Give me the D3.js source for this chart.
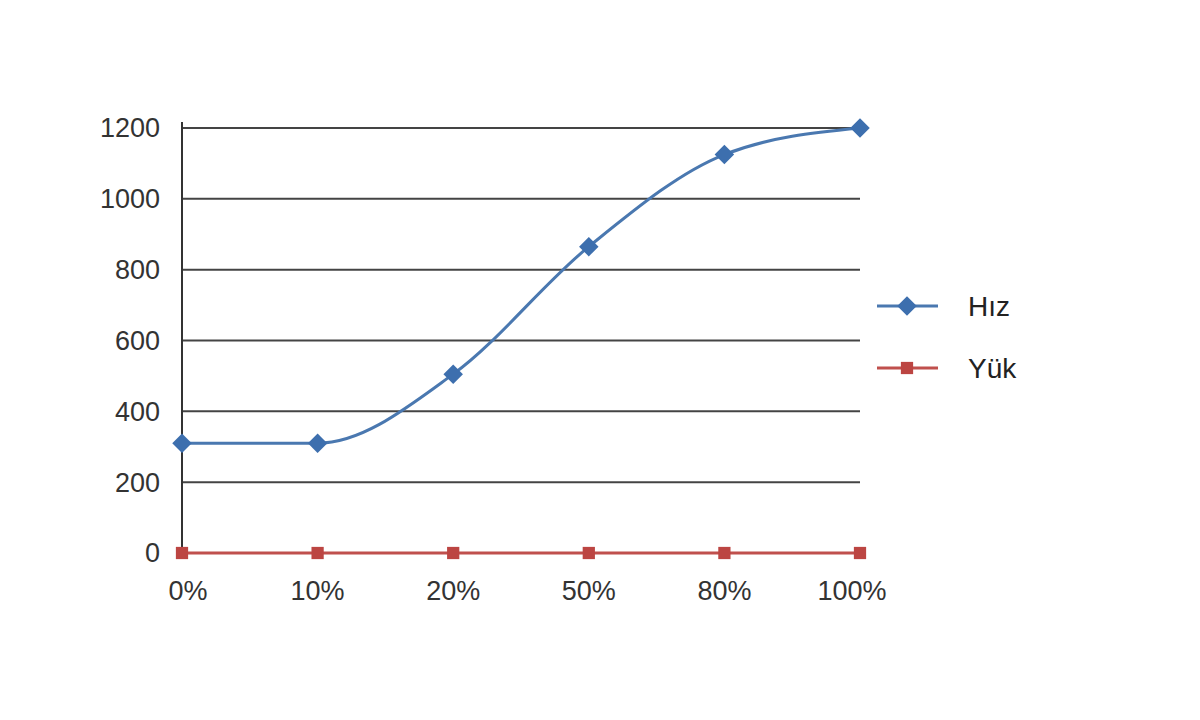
<!DOCTYPE html>
<html>
<head>
<meta charset="utf-8">
<script src="https://cdn.jsdelivr.net/npm/d3@7"></script>
<style>
  body { margin: 0; background: #fff; }
  text { font-family: "Liberation Sans", Arial, sans-serif; }
</style>
</head>
<body>
<svg id="chart" width="1200" height="720"></svg>
<script>
// Data
const categories = ["0%", "10%", "20%", "50%", "80%", "100%"];
const hizValues = [310, 310, 505, 865, 1125, 1200];
const yukValues = [0, 0, 0, 0, 0, 0];
const yTicks = [0, 200, 400, 600, 800, 1000, 1200];

const series = [
    { name: "Hız", values: hizValues, line: "#4a78b0", marker: "#3d6fae", rotate: 45, size: 190 },
    { name: "Yük", values: yukValues, line: "#c0504d", marker: "#bc4542", rotate: 0, size: 150 }
];

const svg = d3.select("#chart");

// Scales
const x = d3.scalePoint()
    .domain(categories)
    .range([182, 860])
    .padding(0);

const y = d3.scaleLinear()
    .domain([0, 1200])
    .range([553, 128]);

// Horizontal gridlines (none at 0)
svg.append("g")
    .selectAll("line")
    .data(yTicks.filter(d => d > 0))
    .enter().append("line")
    .attr("x1", 182)
    .attr("x2", 860)
    .attr("y1", d => y(d))
    .attr("y2", d => y(d))
    .attr("stroke", "#444")
    .attr("stroke-width", 2);

// Vertical axis line
svg.append("line")
    .attr("x1", 182).attr("x2", 182)
    .attr("y1", y(1200) - 6).attr("y2", y(0))
    .attr("stroke", "#333")
    .attr("stroke-width", 2);

// Y tick labels
svg.append("g")
    .selectAll("text")
    .data(yTicks)
    .enter().append("text")
    .attr("x", 160)
    .attr("y", d => y(d))
    .attr("dy", "0.35em")
    .attr("text-anchor", "end")
    .attr("font-size", 27)
    .attr("fill", "#333")
    .text(d => d);

// X tick labels
svg.append("g")
    .selectAll("text")
    .data(categories)
    .enter().append("text")
    .attr("x", (d, i) => x(d) + (i === 0 ? 6 : i === categories.length - 1 ? -8 : 0))
    .attr("y", 600)
    .attr("text-anchor", "middle")
    .attr("font-size", 27)
    .attr("fill", "#333")
    .text(d => d);

// Lines
const line = d3.line()
    .x((d, i) => x(categories[i]))
    .y(d => y(d))
    .curve(d3.curveMonotoneX);

const marker = s => d3.symbol().type(d3.symbolSquare).size(s.size);

// draw red first so blue sits on top
series.slice().reverse().forEach(s => {
    svg.append("path")
        .datum(s.values)
        .attr("d", line)
        .attr("fill", "none")
        .attr("stroke", s.line)
        .attr("stroke-width", 3);

    svg.append("g")
        .selectAll("path")
        .data(s.values)
        .enter().append("path")
        .attr("d", marker(s))
        .attr("transform", (d, i) => `translate(${x(categories[i])},${y(d)}) rotate(${s.rotate})`)
        .attr("fill", s.marker);
});

// Legend
const legend = svg.append("g");
series.forEach((s, i) => {
    const ly = 306 + i * 62;
    legend.append("line")
        .attr("x1", 877).attr("x2", 938)
        .attr("y1", ly).attr("y2", ly)
        .attr("stroke", s.line)
        .attr("stroke-width", 3);
    legend.append("path")
        .attr("d", marker(s))
        .attr("transform", `translate(907,${ly}) rotate(${s.rotate})`)
        .attr("fill", s.marker);
    legend.append("text")
        .attr("x", 968)
        .attr("y", ly)
        .attr("dy", "0.35em")
        .attr("font-size", 28)
        .attr("font-family", "'Open Sans', sans-serif")
        .attr("fill", "#222")
        .text(s.name);
});
</script>
</body>
</html>
